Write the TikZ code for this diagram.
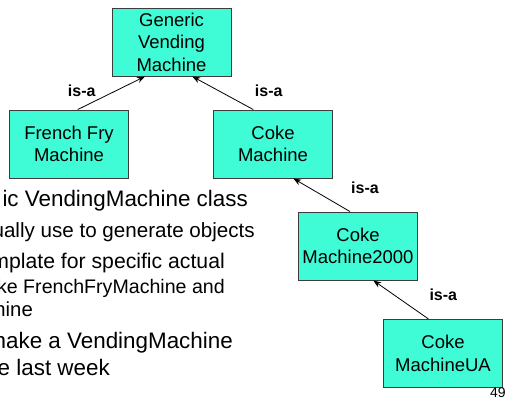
\documentclass[tikz,border=0pt]{standalone}
\usepackage{fontspec}
\setmainfont{Liberation Sans}
\usetikzlibrary{arrows.meta}
\definecolor{boxfill}{RGB}{64,252,214}
\definecolor{boxline}{RGB}{60,60,60}
\tikzset{
  classbox/.style={draw=boxline, line width=0.9pt, fill=boxfill, minimum width=119pt, minimum height=68pt,
    inner sep=0pt, align=center, font=\fontsize{18.5}{22.5}\selectfont},
  isa/.style={font=\bfseries\fontsize{16}{19}\selectfont, inner sep=0pt},
  inh/.style={draw=black, line width=0.8pt, -{Stealth[length=8pt,width=6pt]}},
  bigtext/.style={anchor=base east, inner sep=0pt, font=\fontsize{22.4}{26}\selectfont},
  midtext/.style={anchor=base east, inner sep=0pt, font=\fontsize{20.6}{24}\selectfont},
  smalltext/.style={anchor=base east, inner sep=0pt, font=\fontsize{19.6}{23}\selectfont}
}
\begin{document}
\begin{tikzpicture}[x=1pt,y=-1pt]
\useasboundingbox (0,0) rectangle (506,398);
\clip (0,0) rectangle (506,398);
\fill[white] (0,0) rectangle (506,398);
% boxes
\node[classbox] (gvm) at (171.5,42) {Generic\\Vending\\Machine};
\node[classbox] (ff) at (69,144) {French Fry\\Machine};
\node[classbox] (coke) at (273,144) {Coke\\Machine};
\node[classbox] (c2k) at (358,246) {Coke\\Machine2000};
\node[classbox] (ua) at (443,353.3) {Coke\\MachineUA};
% connectors
\draw[inh] ([xshift=8.7pt]ff.north) -- ([xshift=-26.5pt]gvm.south);
\draw[inh] ([xshift=-19.7pt]coke.north) -- ([xshift=20.8pt]gvm.south);
\draw[inh] ([xshift=-8pt]c2k.north) -- ([xshift=20.3pt]coke.south);
\draw[inh] ([xshift=-14.7pt]ua.north) -- ([xshift=15.3pt]c2k.south);
% labels
\node[isa] (l1) at (81.7,90.7) {is-a};
\node[isa] (l2) at (268.7,90.7) {is-a};
\node[isa] (l3) at (365,187.7) {is-a};
\node[isa] (l4) at (443.3,295) {is-a};
% left text
\node[bigtext] (t1) at (248,207) {ic VendingMachine class};
\node[midtext] (t2) at (255,237) {ually use to generate objects};
\node[midtext, font=\fontsize{21.2}{24}\selectfont] (t3) at (225,268) {mplate for specific actual};
\node[smalltext] (t4) at (225,293) {ke FrenchFryMachine and};
\node[smalltext, font=\fontsize{20.3}{23}\selectfont] (t5) at (33,316) {hine};
\node[bigtext] (t6) at (233,348) {nake a VendingMachine};
\node[bigtext] (t7) at (110,375) {e last week};
% page number
\node[anchor=base west, inner sep=0pt, font=\fontsize{14}{16}\selectfont] (pg) at (490,397) {49};
\end{tikzpicture}
\end{document}
